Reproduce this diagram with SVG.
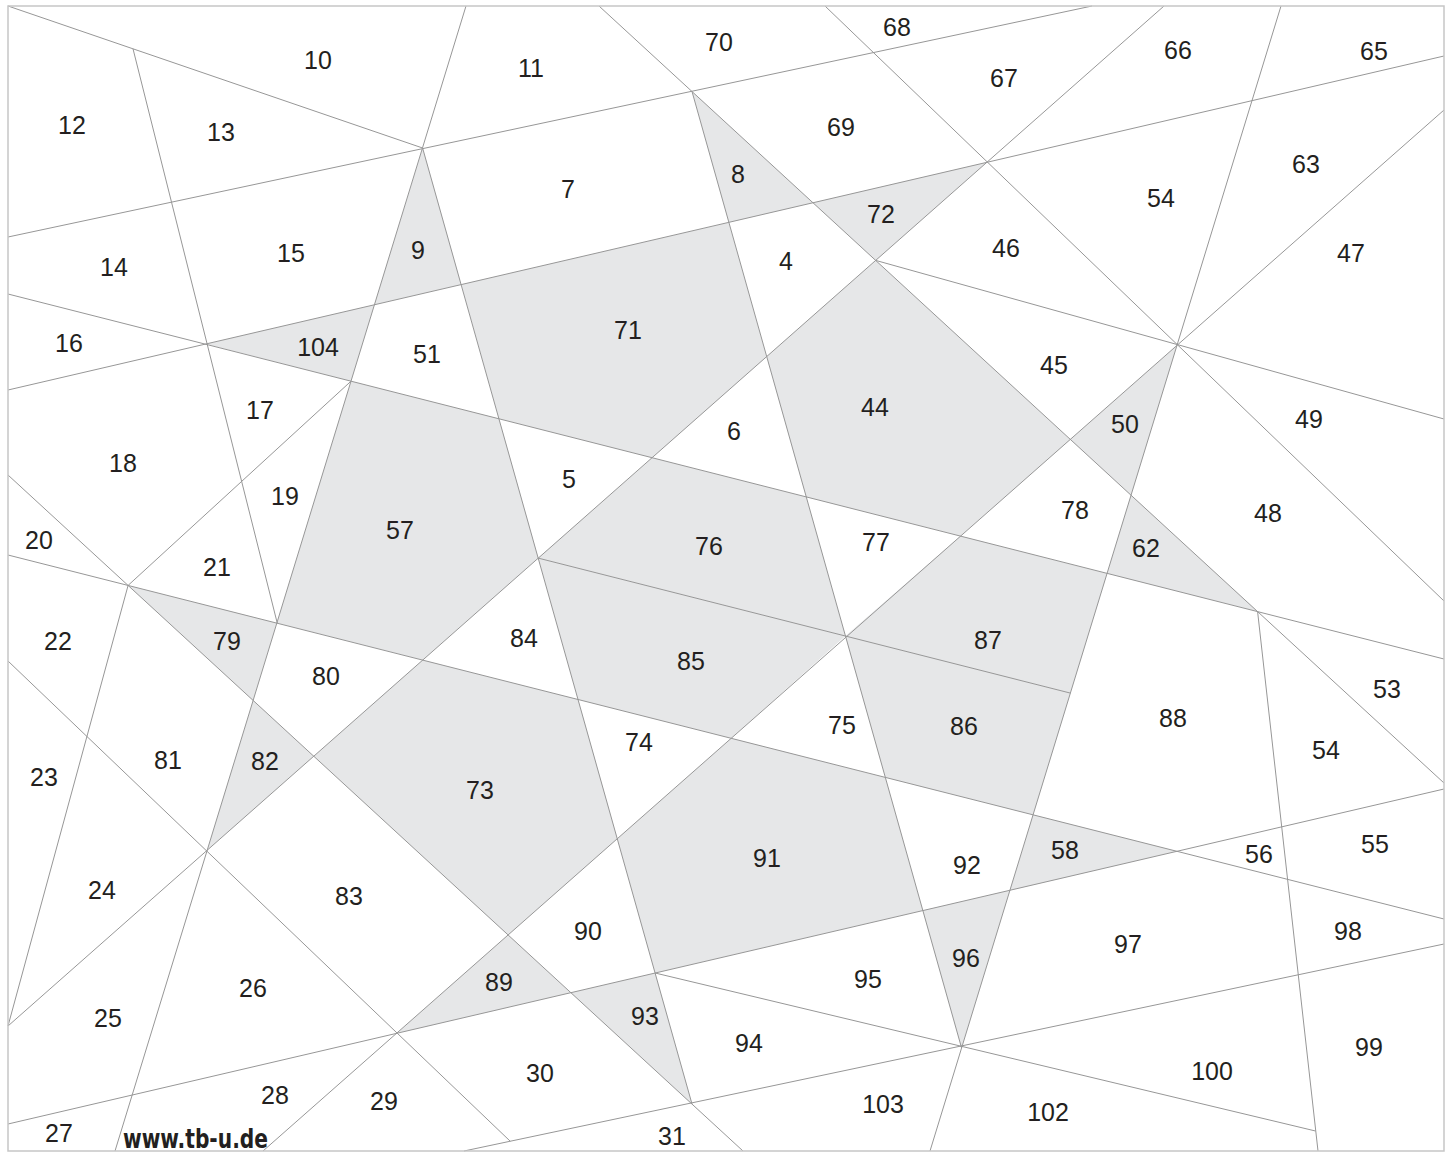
<svg xmlns="http://www.w3.org/2000/svg" width="1455" height="1153" viewBox="0 0 1455 1153">
<style>
.sh{fill:#e6e7e8;stroke:none}
.ln line{stroke:#979797;stroke-width:1;fill:none}
.lb text{font-family:"Liberation Sans",Arial,sans-serif;font-size:25px;fill:#231f20;text-anchor:middle}
.brd{fill:none;stroke:#c6c6c6;stroke-width:1.5}
.url{font-family:"DejaVu Sans Condensed","Liberation Sans Narrow",sans-serif;font-weight:bold;font-size:27px;fill:#231f20}
</style>
<rect x="0" y="0" width="1455" height="1153" fill="#ffffff"/>
<g id="shading" class="sh">
<polygon id="r9" points="422.6,148 374.4,304.8 461.2,284.6"/>
<polygon id="r104" points="206,344 374.4,304.8 351,381.2"/>
<polygon id="r71" points="461.2,284.6 728.8,222.4 766.6,356.6 652.1,457.7 499,418.8"/>
<polygon id="r8" points="692,91.5 728.8,222.4 813,202.8"/>
<polygon id="r72" points="813,202.8 986.8,162.3 875.7,260.4"/>
<polygon id="r44" points="875.7,260.4 1070.3,439.4 960.5,536.1 806.2,496.9 766.6,356.6"/>
<polygon id="r50" points="1177,345.4 1070.3,439.4 1131,495.2"/>
<polygon id="r62" points="1131,495.2 1107.1,573.4 1257.6,611.6"/>
<polygon id="r57" points="351,381.2 499,418.8 538.2,558.1 422.7,660.1 276.8,623.1"/>
<polygon id="r76" points="652.1,457.7 806.2,496.9 845.4,636 538.2,558.1"/>
<polygon id="r85" points="538.2,558.1 845.4,636 731.2,738.3 578.1,699.5"/>
<polygon id="r87" points="960.5,536.1 1107.1,573.4 1070.4,693.1 845.4,636"/>
<polygon id="r86" points="845.4,636 1070.4,693.1 1033.1,814.8 885.3,777.4"/>
<polygon id="r79" points="128.1,585.4 276.8,623.1 253.1,700.4"/>
<polygon id="r82" points="253.1,700.4 313.8,756.2 207.2,850.3"/>
<polygon id="r73" points="422.7,660.1 578.1,699.5 617.3,838.7 508.1,934.9 313.8,756.2"/>
<polygon id="r91" points="731.2,738.3 885.3,777.4 922.8,910.6 655.1,973 617.3,838.7"/>
<polygon id="r89" points="508.1,934.9 396.4,1033.4 570.9,992.7"/>
<polygon id="r93" points="570.9,992.7 655.1,973 692,1104"/>
<polygon id="r96" points="922.8,910.6 1009.9,890.3 961.6,1048"/>
<polygon id="r58" points="1033.1,814.8 1176.9,851.3 1009.9,890.3"/>
</g>
<g id="connectors" class="ln">
<line x1="8" y1="237" x2="1092" y2="6"/>
<line x1="8" y1="390" x2="1444" y2="56"/>
<line x1="8" y1="1124" x2="1444" y2="789"/>
<line x1="464" y1="1151" x2="1444" y2="944"/>
<line x1="8" y1="294" x2="1444" y2="659"/>
<line x1="8" y1="555" x2="1444" y2="919"/>
<line x1="538.2" y1="558.1" x2="1070.4" y2="693.1"/>
<line x1="655.1" y1="973" x2="1315.5" y2="1131"/>
<line x1="875.7" y1="260.4" x2="1444" y2="419"/>
<line x1="8" y1="6" x2="422.6" y2="148"/>
<line x1="133" y1="48.8" x2="277.3" y2="623.3"/>
<line x1="128.1" y1="585.4" x2="8" y2="1026"/>
<line x1="128.1" y1="585.4" x2="351" y2="381.2"/>
<line x1="1257.6" y1="611.6" x2="1318" y2="1151"/>
<line x1="466" y1="6" x2="115" y2="1151"/>
<line x1="422.6" y1="148" x2="692" y2="1104"/>
<line x1="692" y1="91.5" x2="961.6" y2="1048"/>
<line x1="1281" y1="6" x2="930" y2="1151"/>
<line x1="8" y1="475" x2="743" y2="1151"/>
<line x1="599" y1="6" x2="1444" y2="783"/>
<line x1="825" y1="6" x2="1444" y2="601"/>
<line x1="8" y1="661" x2="510.2" y2="1141.2"/>
<line x1="1164" y1="6" x2="8" y2="1026"/>
<line x1="1444" y1="110" x2="263" y2="1151"/>
</g>
<rect class="brd" x="8" y="6" width="1436" height="1145"/>
<g id="labels" class="lb">
<text x="318" y="69">10</text>
<text x="531" y="77">11</text>
<text x="719" y="51">70</text>
<text x="897" y="36">68</text>
<text x="1004" y="87">67</text>
<text x="1178" y="59">66</text>
<text x="1374" y="60">65</text>
<text x="72" y="134">12</text>
<text x="221" y="141">13</text>
<text x="568" y="198">7</text>
<text x="738" y="183">8</text>
<text x="841" y="136">69</text>
<text x="881" y="223">72</text>
<text x="1161" y="207">54</text>
<text x="1306" y="173">63</text>
<text x="114" y="276">14</text>
<text x="291" y="262">15</text>
<text x="418" y="259">9</text>
<text x="786" y="270">4</text>
<text x="1006" y="257">46</text>
<text x="1351" y="262">47</text>
<text x="69" y="352">16</text>
<text x="318" y="356">104</text>
<text x="427" y="363">51</text>
<text x="628" y="339">71</text>
<text x="1054" y="374">45</text>
<text x="875" y="416">44</text>
<text x="1309" y="428">49</text>
<text x="1125" y="433">50</text>
<text x="260" y="419">17</text>
<text x="123" y="472">18</text>
<text x="734" y="440">6</text>
<text x="569" y="488">5</text>
<text x="285" y="505">19</text>
<text x="400" y="539">57</text>
<text x="709" y="555">76</text>
<text x="876" y="551">77</text>
<text x="1075" y="519">78</text>
<text x="1146" y="557">62</text>
<text x="1268" y="522">48</text>
<text x="39" y="549">20</text>
<text x="217" y="576">21</text>
<text x="58" y="650">22</text>
<text x="227" y="650">79</text>
<text x="326" y="685">80</text>
<text x="524" y="647">84</text>
<text x="691" y="670">85</text>
<text x="988" y="649">87</text>
<text x="1387" y="698">53</text>
<text x="44" y="786">23</text>
<text x="168" y="769">81</text>
<text x="265" y="770">82</text>
<text x="480" y="799">73</text>
<text x="639" y="751">74</text>
<text x="842" y="734">75</text>
<text x="964" y="735">86</text>
<text x="1173" y="727">88</text>
<text x="1326" y="759">54</text>
<text x="102" y="899">24</text>
<text x="349" y="905">83</text>
<text x="767" y="867">91</text>
<text x="967" y="874">92</text>
<text x="1065" y="859">58</text>
<text x="1259" y="863">56</text>
<text x="1375" y="853">55</text>
<text x="588" y="940">90</text>
<text x="1348" y="940">98</text>
<text x="1128" y="953">97</text>
<text x="966" y="967">96</text>
<text x="868" y="988">95</text>
<text x="499" y="991">89</text>
<text x="253" y="997">26</text>
<text x="645" y="1025">93</text>
<text x="108" y="1027">25</text>
<text x="749" y="1052">94</text>
<text x="1369" y="1056">99</text>
<text x="1212" y="1080">100</text>
<text x="540" y="1082">30</text>
<text x="275" y="1104">28</text>
<text x="384" y="1110">29</text>
<text x="883" y="1113">103</text>
<text x="1048" y="1121">102</text>
<text x="59" y="1142">27</text>
<text x="672" y="1145">31</text>
</g>
<text class="url" x="123" y="1148" textLength="145" lengthAdjust="spacingAndGlyphs">www.tb-u.de</text>
</svg>
